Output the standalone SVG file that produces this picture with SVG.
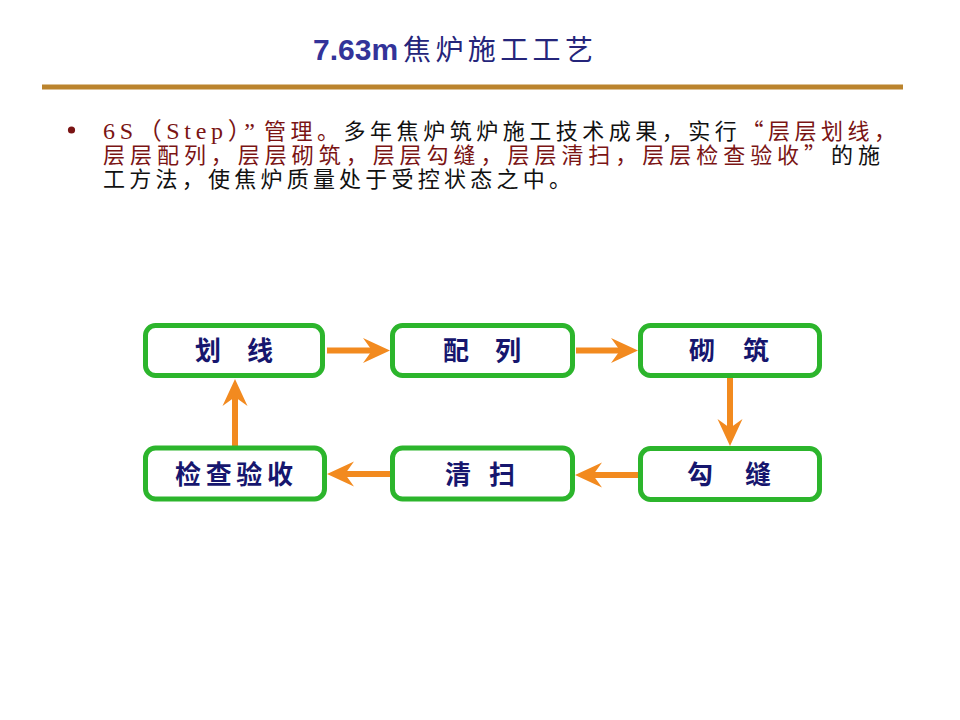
<svg xmlns="http://www.w3.org/2000/svg" width="960" height="720" viewBox="0 0 960 720">
<style>
.box{fill:#ffffff;stroke:#2cb52c;stroke-width:5}
.lbl{font-family:"Noto Sans CJK SC",sans-serif;font-size:26px;font-weight:700;fill:#16166e;text-anchor:middle}
.body{font-family:"Noto Sans CJK SC",sans-serif;font-size:22px;fill:#111111}
.lat{font-family:"Liberation Serif","Noto Sans CJK SC",serif;font-size:24px}
.red{fill:#7a1414}
.conn{stroke:#f28a1f;stroke-width:6;fill:none}
</style>
<defs>
<marker id="ah" viewBox="-28 -13 28 26" markerWidth="28" markerHeight="26" refX="-18" refY="0" markerUnits="userSpaceOnUse" orient="auto">
<path d="M0,0 L-27,-12.5 L-18,0 L-27,12.5 Z" fill="#f28a1f"/>
</marker>
</defs>
<rect width="960" height="720" fill="#ffffff"/>
<g id="title">
<text x="313" y="60" font-family="'Liberation Sans',Arial,sans-serif" font-size="30" font-weight="700" fill="#333399">7.63m</text>
<text x="403" y="60" font-family="'Noto Sans CJK SC',sans-serif" font-size="28" fill="#25257a" textLength="190" lengthAdjust="spacing">焦炉施工工艺</text>
</g>
<rect x="42" y="84.5" width="861" height="5" fill="#bb842d"/>
<g id="paragraph">
<circle cx="71.5" cy="130" r="3.6" fill="#7a1414"/>
<text x="103" y="138.5" class="lat red" textLength="152" lengthAdjust="spacing">6S（Step）”</text>
<text x="264" y="138.5" class="body" textLength="632" lengthAdjust="spacing"><tspan class="red">管理。</tspan>多年焦炉筑炉施工技术成果，实行<tspan class="red">“层层划线，</tspan></text>
<text x="103" y="162.5" class="body" textLength="777" lengthAdjust="spacing"><tspan class="red">层层配列，层层砌筑，层层勾缝，层层清扫，层层检查验收”</tspan>的施</text>
<text x="103" y="186.5" class="body" textLength="468" lengthAdjust="spacing">工方法，使焦炉质量处于受控状态之中。</text>
</g>
<g id="connectors">
<line class="conn" x1="327" y1="350.5" x2="372" y2="350.5" marker-end="url(#ah)"/>
<line class="conn" x1="576" y1="350.5" x2="620" y2="350.5" marker-end="url(#ah)"/>
<line class="conn" x1="730" y1="378" x2="730" y2="428" marker-end="url(#ah)"/>
<line class="conn" x1="638" y1="475" x2="593" y2="475" marker-end="url(#ah)"/>
<line class="conn" x1="390" y1="474" x2="345" y2="474" marker-end="url(#ah)"/>
<line class="conn" x1="235" y1="446" x2="235" y2="397" marker-end="url(#ah)"/>
</g>
<g id="node-huaxian">
<rect class="box" x="145.5" y="325.5" width="177" height="50" rx="10"/>
<text class="lbl" x="234" y="360" textLength="78" lengthAdjust="spacing">划　线</text>
</g>
<g id="node-peilie">
<rect class="box" x="392.5" y="325.5" width="180" height="50" rx="10"/>
<text class="lbl" x="482" y="360" textLength="78" lengthAdjust="spacing">配　列</text>
</g>
<g id="node-qizhu">
<rect class="box" x="640.5" y="325.5" width="179" height="50" rx="10"/>
<text class="lbl" x="729" y="360" textLength="80" lengthAdjust="spacing">砌　筑</text>
</g>
<g id="node-goufeng">
<rect class="box" x="640.5" y="448.5" width="179" height="51" rx="10"/>
<text class="lbl" x="729" y="484" textLength="84" lengthAdjust="spacing">勾　缝</text>
</g>
<g id="node-qingsao">
<rect class="box" x="392.5" y="448" width="180" height="51" rx="10"/>
<text class="lbl" x="480" y="484" textLength="70" lengthAdjust="spacing">清　扫</text>
</g>
<g id="node-jiancha">
<rect class="box" x="145.5" y="448" width="179" height="51" rx="10"/>
<text class="lbl" x="234" y="484" textLength="118" lengthAdjust="spacing">检查验收</text>
</g>
</svg>
